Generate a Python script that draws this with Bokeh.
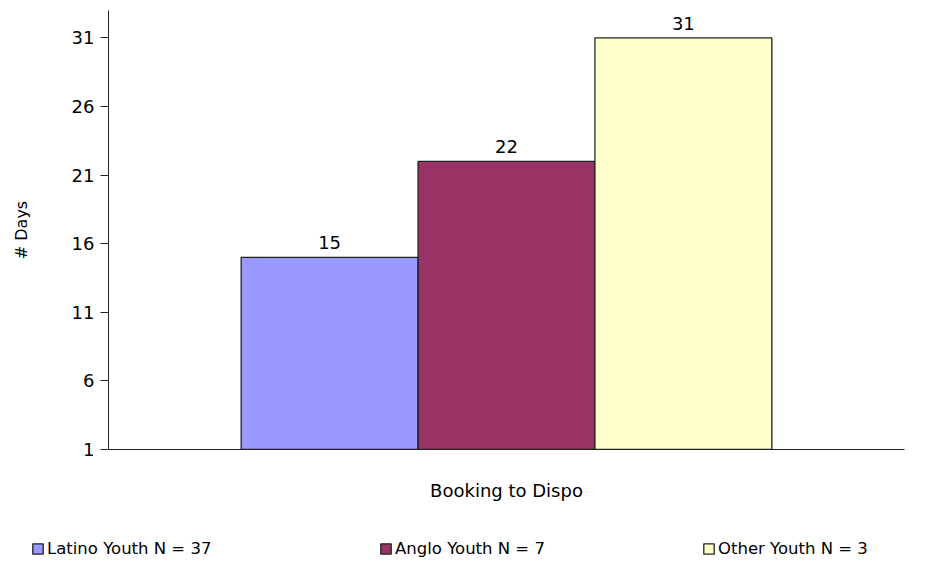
from bokeh.plotting import figure
from bokeh.models import (ColumnDataSource, FactorRange, Range1d, FixedTicker, LabelSet,
                          Legend, LegendItem)
from bokeh.core.properties import value
from bokeh.transform import dodge
from bokeh.embed import file_html
from bokeh.resources import INLINE

category = ["Booking to Dispo"]
series = ["Latino Youth N = 37", "Anglo Youth N = 7", "Other Youth N = 3"]
values = [15, 22, 31]
colors = ["#9999FF", "#993366", "#FFFFCC"]
y_ticks = [1, 6, 11, 16, 21, 26, 31]

FONT = "DejaVu Sans"
AX = "#222222"
bw = 1 / 4.5
offsets = [-bw, 0, bw]

p = figure(x_range=FactorRange(factors=category), y_range=Range1d(1, 33),
           width=924, height=510, output_backend="svg", toolbar_location=None,
           min_border_left=108, min_border_right=20, min_border_top=10, min_border_bottom=61)
p.outline_line_color = None
p.xgrid.grid_line_color = None
p.ygrid.grid_line_color = None

for name, v, c, off in zip(series, values, colors, offsets):
    src = ColumnDataSource(dict(x=category, top=[v], lab=[str(v)]))
    p.vbar(x=dodge("x", off, range=p.x_range), top="top", bottom=1, width=bw, source=src,
           fill_color=c, line_color="#222222", line_width=1.3)
    lbl = LabelSet(x=dodge("x", off, range=p.x_range), y="top", text="lab", source=src,
                   text_align="center", text_baseline="bottom", y_offset=8,
                   text_font=value(FONT), text_font_size=value("18px"), text_color="#000000")
    p.add_layout(lbl)

p.xaxis.major_tick_line_color = None
p.xaxis.major_label_text_font = FONT
p.xaxis.major_label_text_font_size = "18px"
p.xaxis.major_label_text_color = "#000000"
p.xaxis.major_label_standoff = 24
p.xaxis.axis_line_color = AX

p.yaxis.ticker = FixedTicker(ticks=y_ticks)
p.yaxis.axis_label = "# Days"
p.yaxis.axis_label_text_font = FONT
p.yaxis.axis_label_text_font_style = "normal"
p.yaxis.axis_label_text_font_size = "16px"
p.yaxis.axis_label_text_color = "#000000"
p.yaxis.axis_label_standoff = 38
p.yaxis.major_label_text_font = FONT
p.yaxis.major_label_text_font_size = "18px"
p.yaxis.major_label_text_color = "#000000"
p.yaxis.major_label_standoff = 6
p.yaxis.major_tick_in = 0
p.yaxis.major_tick_out = 8
p.yaxis.minor_tick_line_color = None
p.yaxis.axis_line_color = AX
p.yaxis.major_tick_line_color = AX

# legend strip: a separate root below the chart; its bars are hidden, only the keys show
lg = figure(width=924, height=61, output_backend="svg", toolbar_location=None,
            x_range=FactorRange(factors=category), y_range=Range1d(100, 101),
            x_axis_location=None, y_axis_location=None,
            min_border_left=0, min_border_right=0, min_border_top=0, min_border_bottom=0)
lg.outline_line_color = None
lg.xgrid.grid_line_color = None
lg.ygrid.grid_line_color = None
legend_x = [31, 379, 702]
for name, v, c, lx in zip(series, values, colors, legend_x):
    src = ColumnDataSource(dict(x=category, top=[v]))
    r = lg.vbar(x="x", top="top", bottom=1, width=bw, source=src,
                fill_color=c, line_color="#222222", line_width=1.3)
    r.visible = False
    leg = Legend(items=[LegendItem(label=name, renderers=[r])], location=(lx, 13),
                 label_text_font=FONT, label_text_font_size="16.5px",
                 label_text_color="#000000",
                 glyph_width=13, glyph_height=13, label_standoff=3,
                 border_line_color=None, background_fill_alpha=0,
                 inactive_fill_alpha=0, click_policy="none",
                 margin=0, padding=0)
    lg.add_layout(leg, "center")

html = file_html([p, lg], INLINE)
open("out.html", "w").write(html)
